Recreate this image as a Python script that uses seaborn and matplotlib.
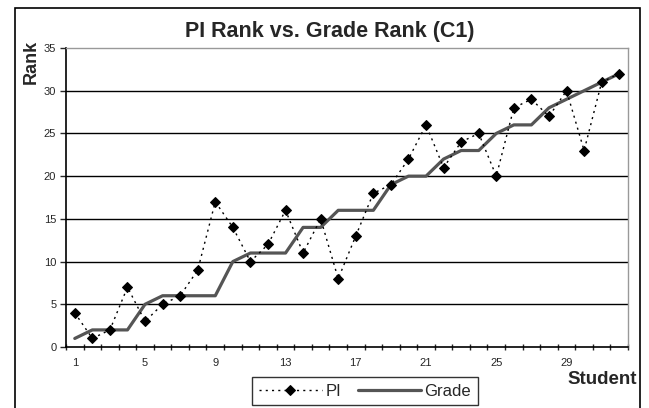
import matplotlib
matplotlib.use('Agg')
import matplotlib.pyplot as plt
import matplotlib.patches as mpatches
import seaborn as sns
import pandas as pd

# Данные с графика
students = list(range(1, 33))
pi_rank = [4, 1, 2, 7, 3, 5, 6, 9, 17, 14, 10, 12, 16, 11, 15, 8,
           13, 18, 19, 22, 26, 21, 24, 25, 20, 28, 29, 27, 30, 23, 31, 32]
grade_rank = [1, 2, 2, 2, 5, 6, 6, 6, 6, 10, 11, 11, 11, 14, 14, 16,
              16, 16, 19, 20, 20, 22, 23, 23, 25, 26, 26, 28, 29, 30, 31, 32]
x_labels = [1, 5, 9, 13, 17, 21, 25, 29]
y_ticks = [0, 5, 10, 15, 20, 25, 30, 35]

df = pd.DataFrame({'Student': students, 'PI': pi_rank, 'Grade': grade_rank})

sns.set_style('white')
plt.rcParams['font.family'] = ['Liberation Sans', 'DejaVu Sans']

fig = plt.figure(figsize=(6.49, 4.08), dpi=100)
ax = fig.add_axes([66 / 649, 1 - 347 / 408, (628 - 66) / 649, (347 - 48) / 408])

# Горизонтальная сетка
for yv in y_ticks[1:-1]:
    ax.axhline(yv, color='black', lw=1.0, zorder=1)

sns.lineplot(data=df, x='Student', y='Grade', ax=ax, color='#555555', lw=2.3,
             label='Grade', zorder=3)
sns.lineplot(data=df, x='Student', y='PI', ax=ax, color='black', lw=1.0,
             linestyle=(0, (1.5, 3)), marker='D', markersize=5.5, markeredgecolor='black',
             label='PI', zorder=4)

ax.set_xlim(0.5, 32.5)
ax.set_ylim(0, 35)
ax.set_yticks(y_ticks)
ax.set_xticks(x_labels)
ax.set_xticks([s + 0.5 for s in range(0, 33)], minor=True)
ax.tick_params(axis='x', which='major', length=0, pad=8, labelsize=8)
ax.tick_params(axis='x', which='minor', length=4, width=1, direction='inout', bottom=True)
ax.tick_params(axis='y', which='major', length=4, width=1, direction='out', left=True,
               labelsize=8, pad=3)

for side in ['left', 'bottom']:
    ax.spines[side].set_color('black')
    ax.spines[side].set_linewidth(1.2)
for side in ['top', 'right']:
    ax.spines[side].set_color('#999999')
    ax.spines[side].set_linewidth(1.0)

ax.set_xlabel('')
ax.set_ylabel('')
ax.get_legend().remove()

fig.text(330 / 649, 1 - 31 / 408, 'PI Rank vs. Grade Rank (C1)', ha='center', va='center',
         fontsize=15.5, fontweight='bold')
fig.text(31 / 649, 1 - 62 / 408, 'Rank', rotation=90, ha='center', va='center',
         fontsize=13, fontweight='bold')
fig.text(602 / 649, 1 - 380 / 408, 'Student', ha='center', va='center',
         fontsize=13.5, fontweight='bold')

# Легенда
handles, labels = ax.get_legend_handles_labels()
order = [labels.index('PI'), labels.index('Grade')]
leg = fig.legend([handles[i] for i in order], [labels[i] for i in order],
                 loc='upper left', bbox_to_anchor=(252 / 649, 1 - 377 / 408),
                 borderaxespad=0, ncol=2, fancybox=False, frameon=True, fontsize=12,
                 handlelength=3.8, handletextpad=0.2, columnspacing=1.0,
                 borderpad=0.4)
leg.get_frame().set_edgecolor('black')
leg.get_frame().set_linewidth(1.0)

# Рамка вокруг области диаграммы
fig.patches.append(mpatches.Rectangle((15 / 649, -0.05), (640 - 15) / 649, 1 - 8 / 408 + 0.05,
                                      transform=fig.transFigure, fill=False,
                                      edgecolor='black', lw=1.2))

fig.savefig('out.png', dpi=100)
